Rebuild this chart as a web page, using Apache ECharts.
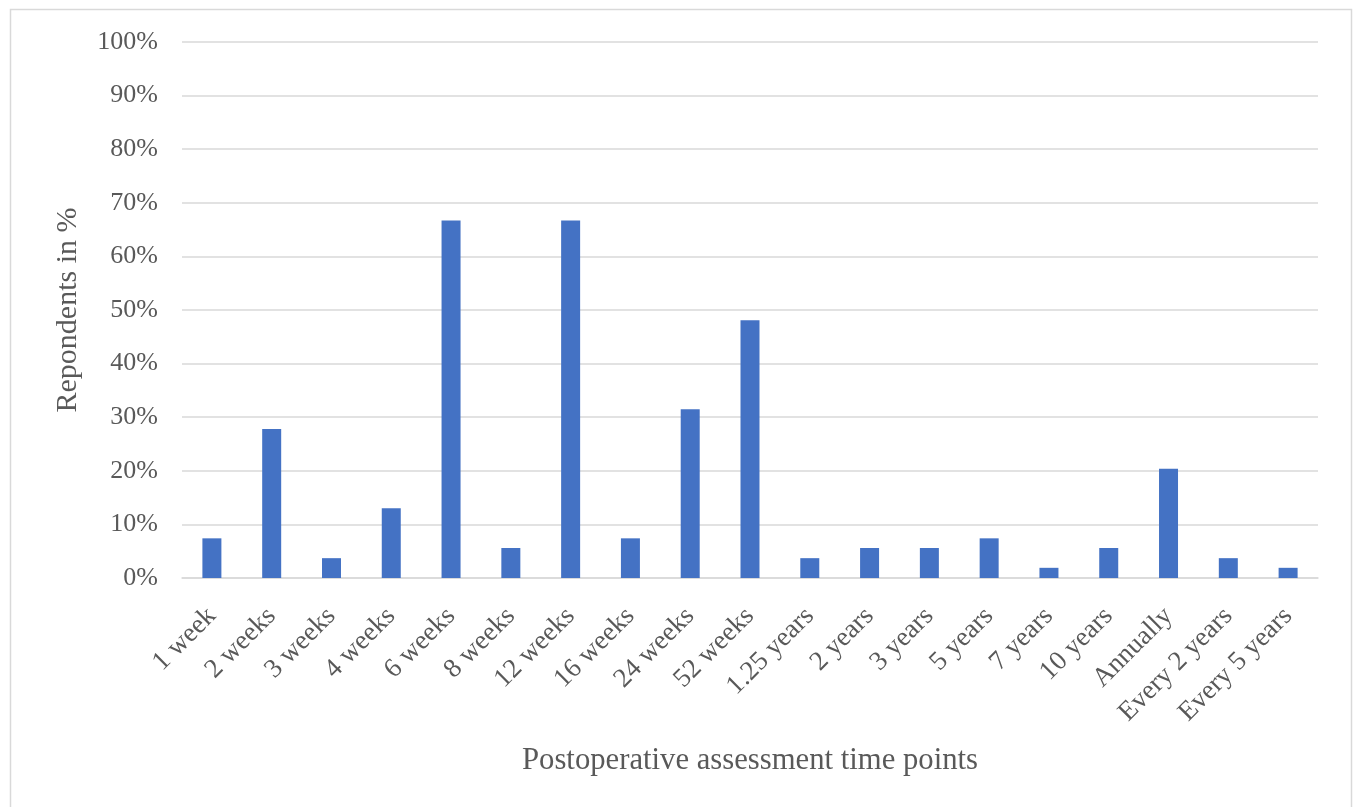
<!DOCTYPE html>
<html>
<head>
<meta charset="utf-8">
<script src="https://cdn.jsdelivr.net/npm/echarts@6/dist/echarts.min.js"></script>
<style>
html,body{margin:0;padding:0;background:#fff;}
#chart{width:1354px;height:807px;}
</style>
</head>
<body>
<div id="chart"></div>
<script>
const categories = ['1 week','2 weeks','3 weeks','4 weeks','6 weeks','8 weeks','12 weeks','16 weeks','24 weeks','52 weeks','1.25 years','2 years','3 years','5 years','7 years','10 years','Annually','Every 2 years','Every 5 years'];
const respondents = [7.4, 27.8, 3.7, 13.0, 66.7, 5.6, 66.7, 7.4, 31.5, 48.1, 3.7, 5.6, 5.6, 7.4, 1.9, 5.6, 20.4, 3.7, 1.9];
const yAxisTitle = 'Repondents in %';
const xAxisTitle = 'Postoperative assessment time points';

const FONT = '"Liberation Serif", "Times New Roman", serif';
const chart = echarts.init(document.getElementById('chart'));
chart.setOption({
  backgroundColor: '#ffffff',
  animation: false,
  graphic: [{
    type: 'rect',
    shape: { x: 10.5, y: 9.5, width: 1341, height: 800 },
    style: { fill: 'none', stroke: '#d9d9d9', lineWidth: 1.5 },
    silent: true, z: -10
  }],
  grid: { left: 182, right: 36, top: 42, bottom: 229, containLabel: false },
  xAxis: {
    type: 'category',
    data: categories,
    name: xAxisTitle,
    nameLocation: 'middle',
    nameGap: 167,
    nameTextStyle: { fontFamily: FONT, fontSize: 30.7, color: '#595959' },
    axisLine: { lineStyle: { color: '#d9d9d9', width: 1.5 } },
    axisTick: { show: false },
    axisLabel: { interval: 0, rotate: 45, margin: 34, fontFamily: FONT, fontSize: 27, color: '#595959' }
  },
  yAxis: {
    type: 'value',
    min: 0, max: 100, interval: 10,
    name: yAxisTitle,
    nameLocation: 'middle',
    nameGap: 99,
    nameRotate: 90,
    nameTextStyle: { fontFamily: FONT, fontSize: 30, color: '#595959' },
    axisLine: { show: false },
    axisTick: { show: false },
    splitLine: { lineStyle: { color: '#d9d9d9', width: 1.5 } },
    axisLabel: { formatter: '{value}%', margin: 24, fontFamily: FONT, fontSize: 26, color: '#595959' }
  },
  series: [{
    type: 'bar',
    data: respondents,
    barWidth: 19,
    itemStyle: { color: '#4472c4' }
  }]
});
</script>
</body>
</html>
